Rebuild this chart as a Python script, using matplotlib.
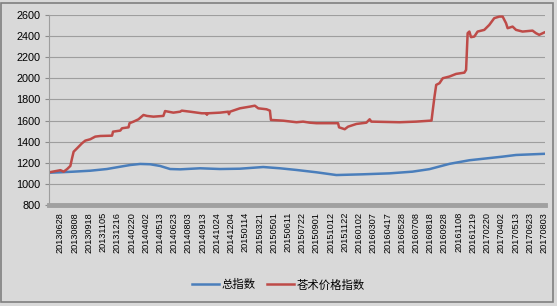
import matplotlib
matplotlib.use('Agg')
import matplotlib.pyplot as plt
from matplotlib.patches import Rectangle

plt.rcParams['font.family'] = ['Liberation Sans', 'Noto Sans CJK SC', 'DejaVu Sans']

# tick labels (every ~28 trading days)
tick_labels = ['20130628', '20130808', '20130918', '20131105', '20131216', '20140220',
               '20140402', '20140513', '20140623', '20140803', '20140913', '20141024',
               '20141204', '20150114', '20150321', '20150501', '20150611', '20150722',
               '20150901', '20151012', '20151122', '20160102', '20160307', '20160417',
               '20160528', '20160708', '20160818', '20160928', '20161108', '20161219',
               '20170220', '20170402', '20170513', '20170623', '20170803']

# red series: position in tick units, index value
herb_x = [-0.77, 0.0, 0.23, 0.47, 0.70, 0.82, 0.93, 1.17, 1.52, 1.75, 2.10, 2.45, 2.81,
          3.63, 3.70, 4.21, 4.33, 4.79, 4.86, 5.14, 5.49, 5.84, 6.08, 6.54, 7.24, 7.36,
          7.94, 8.42, 8.53, 9.12, 9.94, 10.28, 10.30, 10.38, 11.22, 11.80, 11.85, 11.92,
          12.62, 13.32, 13.67, 13.91, 14.49, 14.73, 14.80, 15.66, 16.60, 17.06, 17.53,
          18.00, 19.52, 19.59, 19.99, 20.22, 20.81, 21.51, 21.74, 21.86, 23.84, 25.01,
          26.09, 26.18, 26.30, 26.42, 26.65, 26.88, 27.35, 27.82, 28.40, 28.52, 28.63,
          28.75, 28.87, 29.10, 29.33, 29.80, 30.15, 30.50, 30.86, 31.09, 31.33, 31.44,
          31.79, 32.03, 32.49, 33.19, 33.43, 33.66, 34.01]
herb_y = [1110, 1130, 1116, 1140, 1170, 1243, 1305, 1337, 1385, 1410, 1423, 1448, 1454,
          1457, 1495, 1505, 1527, 1536, 1575, 1590, 1612, 1653, 1644, 1637, 1644, 1690,
          1675, 1684, 1694, 1684, 1669, 1669, 1655, 1669, 1675, 1684, 1660, 1684,
          1716, 1732, 1741, 1716, 1707, 1694, 1606, 1599, 1584, 1590, 1580,
          1575, 1575, 1536, 1518, 1542, 1568, 1580, 1612, 1590, 1584, 1590,
          1600, 1700, 1827, 1938, 1954, 2001, 2017, 2042, 2054, 2080, 2428,
          2443, 2390, 2396, 2443, 2459, 2506, 2570, 2585, 2585, 2522, 2475,
          2490, 2459, 2443, 2452, 2428, 2412, 2434]

# blue series
total_x = [-0.82, 0.0, 0.93, 2.10, 3.27, 4.21, 4.91, 5.61, 6.31, 7.01, 7.71, 8.42, 9.82,
           11.22, 12.62, 14.26, 15.43, 16.60, 18.00, 19.40, 21.27, 23.14, 24.75, 25.95,
           27.35, 28.75, 31.07, 32.03, 34.01]
total_y = [1106, 1110, 1116, 1125, 1141, 1163, 1179, 1189, 1186, 1170, 1141, 1138, 1148,
           1141, 1144, 1160, 1148, 1132, 1110, 1084, 1091, 1100, 1116, 1140,
           1190, 1224, 1258, 1274, 1285]

bg = '#d9d9d9'
fig = plt.figure(figsize=(5.57, 3.06), dpi=100, facecolor=bg)
ax = fig.add_axes([0.088, 0.330, 0.890, 0.621])
ax.set_facecolor(bg)

ax.plot(total_x, total_y, color='#4a7ebb', lw=1.8, label='总指数', solid_joinstyle='round')
ax.plot(herb_x, herb_y, color='#be4b48', lw=1.8, label='苍术价格指数', solid_joinstyle='round')

ax.set_ylim(800, 2600)
ax.set_yticks(range(800, 2601, 200))
ax.set_xlim(-0.8, 34.05)
ax.set_xticks(range(len(tick_labels)))
ax.set_xticklabels(tick_labels, rotation=90, fontsize=6.6)
ax.tick_params(axis='y', labelsize=7.8, length=3, color='#8c8c8c', pad=3)
ax.tick_params(axis='x', length=0, pad=5)

ax.grid(axis='y', color='#9e9e9e', lw=0.8)
ax.set_axisbelow(True)
for s in ['top', 'right']:
    ax.spines[s].set_visible(False)
ax.spines['left'].set_color('#9e9e9e')
ax.spines['left'].set_linewidth(0.8)
ax.spines['bottom'].set_color('#a0a0a0')
ax.spines['bottom'].set_linewidth(3.5)

leg = fig.legend(loc='center', bbox_to_anchor=(0.5, 0.069), ncol=2, frameon=False,
                 fontsize=8.2, handlelength=2.4, columnspacing=1.0, handletextpad=0.2)

fig.patches.append(Rectangle((0.001, 0.012), 0.992, 0.978, transform=fig.transFigure,
                             fill=False, edgecolor='#7f7f7f', lw=1.2))

fig.savefig('out.png', dpi=100, facecolor=bg)
